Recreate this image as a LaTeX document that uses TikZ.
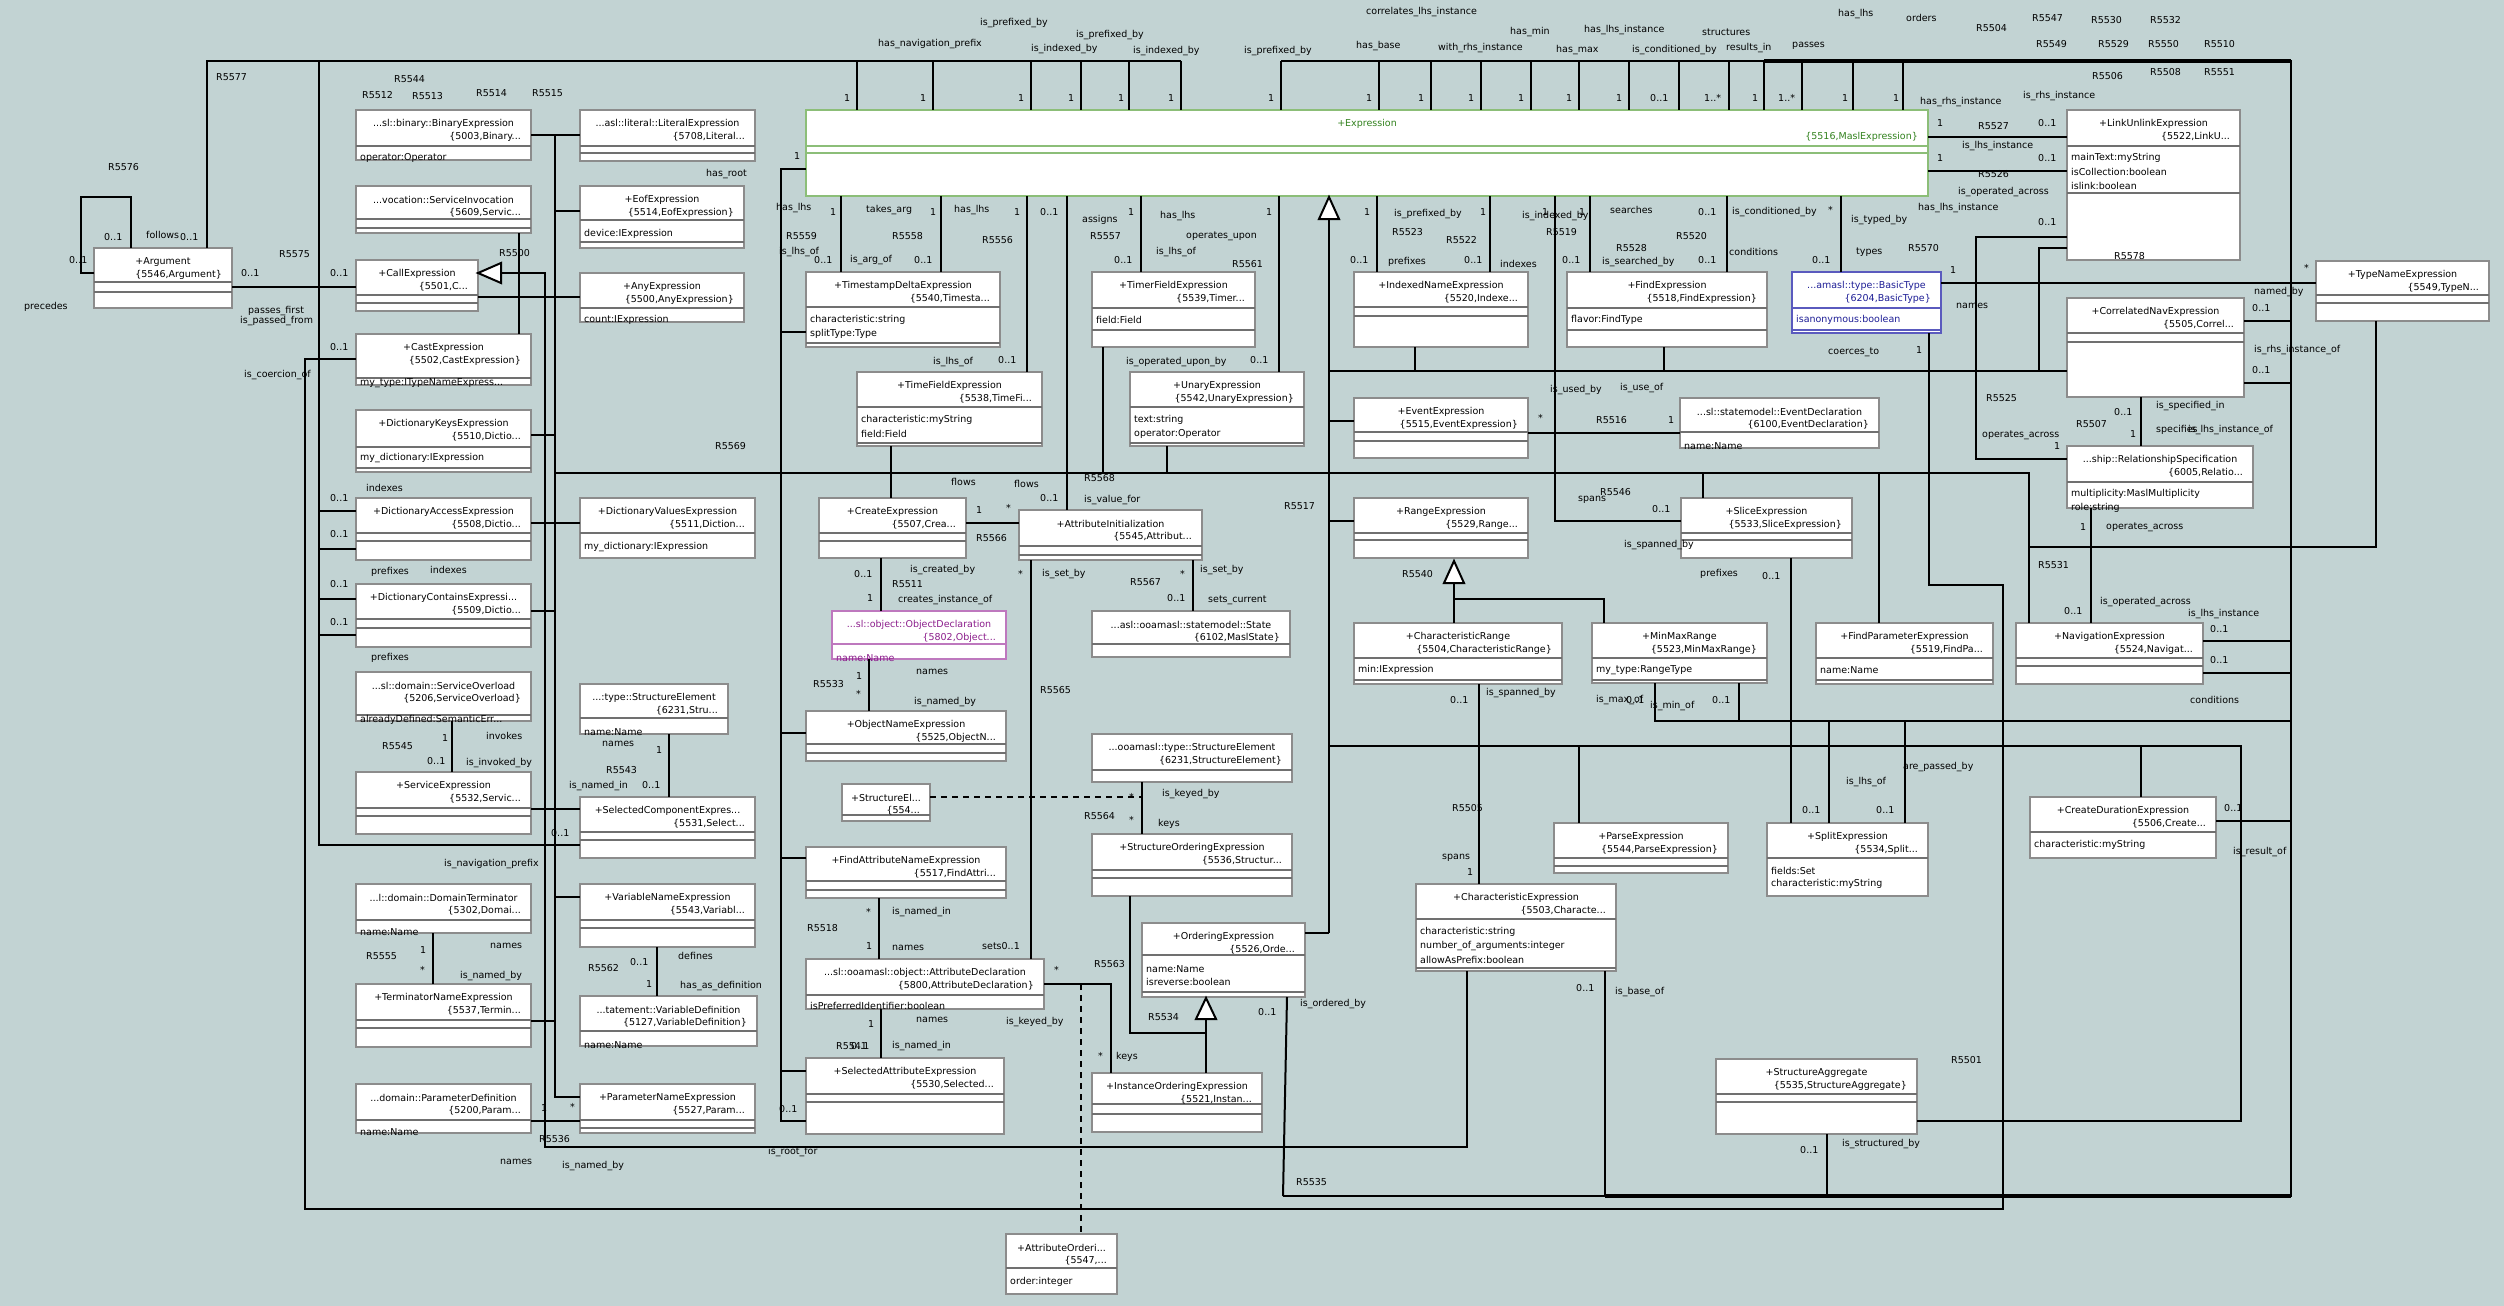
\documentclass[tikz,border=0pt]{standalone}
\usepackage{fontspec}
\setmainfont{DejaVu Sans}
\definecolor{bg}{RGB}{194,211,211}
\definecolor{boxline}{RGB}{140,140,140}
\definecolor{sepline}{RGB}{112,112,112}
\definecolor{exgreen}{RGB}{50,130,30}
\definecolor{exedge}{RGB}{140,190,120}
\definecolor{typeblue}{RGB}{30,30,150}
\definecolor{typeedge}{RGB}{90,90,190}
\definecolor{objpurple}{RGB}{140,30,140}
\definecolor{objedge}{RGB}{190,120,190}
\newcommand\dfont{\fontsize{9.5pt}{11pt}\selectfont}
\tikzset{
  umlbox/.style={draw=boxline, fill=white, line width=1.4pt, inner sep=0pt, outer sep=0pt},
  sep/.style={draw=sepline, line width=2.2pt},
  ttl/.style={font=\dfont, text=black, inner sep=0pt},
  attr/.style={font=\dfont, text=black, inner sep=0pt, anchor=west},
  lbl/.style={font=\dfont, text=black, inner sep=0pt, anchor=west},
  conn/.style={draw=black, line width=2pt},
  thickconn/.style={draw=black, line width=3.5pt},
  dashconn/.style={draw=black, line width=2pt, dash pattern=on 6pt off 5pt},
  gen/.style={draw=black, fill=white, line width=2pt, line join=miter},
}
% class box: name, x1, y1, x2, y2, title, id, first separator, second separator
\newcommand\ubox[9]{%
  \node[umlbox, minimum width={(#4)-(#2)}, minimum height={(#5)-(#3)}, anchor=north west] (#1) at (#2,#3) {};
  \draw[sep] (#2,#8) -- (#4,#8);
  \if\relax\detokenize{#9}\relax\else\draw[sep] (#2,#9) -- (#4,#9);\fi
  \node[ttl] (#1-t) at ({(#2+#4)/2},{#3+14}) {#6};
  \node[ttl, anchor=east] (#1-i) at ({#4-10},{#3+27}) {#7};
}
\newcommand\uattr[4]{\node[attr] (#1) at (#2,#3) {#4};}
\newcount\lbn
\newcommand\tx[3]{\global\advance\lbn by 1 \node[lbl] (lb\the\lbn) at (#1,#2) {#3};}
\begin{document}
\catcode`\_=12
\begin{tikzpicture}[x=1pt,y=-1pt]
\fill[bg] (0,0) rectangle (2504,1306);
\useasboundingbox (0,0) rectangle (2504,1306);

% ---------- class boxes ----------
\ubox{arg}{94}{248}{232}{308}{+Argument}{\{5546,Argument\}}{282}{292}
\ubox{binexp}{356}{110}{531}{160}{...sl::binary::BinaryExpression}{\{5003,Binary...}{146}{}
\uattr{binexp-a}{360}{158}{operator:Operator}
\ubox{servinv}{356}{186}{531}{233}{...vocation::ServiceInvocation}{\{5609,Servic...}{219}{228}
\ubox{call}{356}{260}{478}{311}{+CallExpression}{\{5501,C...}{295}{303}
\ubox{cast}{356}{334}{531}{385}{+CastExpression}{\{5502,CastExpression\}}{378}{}
\uattr{cast-a}{360}{383}{my_type:ITypeNameExpress...}
\ubox{dkeys}{356}{410}{531}{472}{+DictionaryKeysExpression}{\{5510,Dictio...}{447}{468}
\uattr{dkeys-a}{360}{458}{my_dictionary:IExpression}
\ubox{daccess}{356}{498}{531}{560}{+DictionaryAccessExpression}{\{5508,Dictio...}{533}{541}
\ubox{dcontains}{356}{584}{531}{647}{+DictionaryContainsExpressi...}{\{5509,Dictio...}{619}{628}
\ubox{servovl}{356}{672}{531}{721}{...sl::domain::ServiceOverload}{\{5206,ServiceOverload\}}{715}{}
\uattr{servovl-a}{360}{720}{alreadyDefined:SemanticErr...}
\ubox{servexp}{356}{772}{531}{834}{+ServiceExpression}{\{5532,Servic...}{808}{816}
\ubox{domterm}{356}{884}{531}{933}{...l::domain::DomainTerminator}{\{5302,Domai...}{920}{}
\uattr{domterm-a}{360}{932}{name:Name}
\ubox{termname}{356}{984}{531}{1047}{+TerminatorNameExpression}{\{5537,Termin...}{1020}{1028}
\ubox{paramdef}{356}{1084}{531}{1133}{...domain::ParameterDefinition}{\{5200,Param...}{1120}{}
\uattr{paramdef-a}{360}{1132}{name:Name}

\ubox{litexp}{580}{110}{755}{161}{...asl::literal::LiteralExpression}{\{5708,Literal...}{146}{153}
\ubox{eofexp}{580}{186}{744}{248}{+EofExpression}{\{5514,EofExpression\}}{220}{242}
\uattr{eofexp-a}{584}{234}{device:IExpression}
\ubox{anyexp}{580}{273}{744}{322}{+AnyExpression}{\{5500,AnyExpression\}}{308}{}
\uattr{anyexp-a}{584}{320}{count:IExpression}
\ubox{dvalues}{580}{498}{755}{558}{+DictionaryValuesExpression}{\{5511,Diction...}{533}{}
\uattr{dvalues-a}{584}{547}{my_dictionary:IExpression}
\ubox{stelemA}{580}{684}{728}{734}{...:type::StructureElement}{\{6231,Stru...}{718}{}
\uattr{stelemA-a}{584}{732}{name:Name}
\ubox{selcomp}{580}{797}{755}{858}{+SelectedComponentExpres...}{\{5531,Select...}{832}{840}
\ubox{varname}{580}{884}{755}{947}{+VariableNameExpression}{\{5543,Variabl...}{920}{928}
\ubox{vardef}{580}{996}{757}{1046}{...tatement::VariableDefinition}{\{5127,VariableDefinition\}}{1031}{}
\uattr{vardef-a}{584}{1045}{name:Name}
\ubox{paramname}{580}{1084}{755}{1133}{+ParameterNameExpression}{\{5527,Param...}{1120}{1128}

\begin{scope}[umlbox/.style={draw=exedge, fill=white, line width=1.4pt, inner sep=0pt, outer sep=0pt},
  sep/.style={draw=exedge, line width=2.2pt}, ttl/.style={font=\dfont, text=exgreen, inner sep=0pt}]
\ubox{expr}{806}{110}{1928}{196}{+Expression}{\{5516,MaslExpression\}}{146}{153}
\end{scope}

\ubox{tsdelta}{806}{272}{1000}{347}{+TimestampDeltaExpression}{\{5540,Timesta...}{307}{343}
\uattr{tsdelta-a}{810}{320}{characteristic:string}
\uattr{tsdelta-b}{810}{334}{splitType:Type}
\ubox{timefield}{857}{372}{1042}{446}{+TimeFieldExpression}{\{5538,TimeFi...}{407}{443}
\uattr{timefield-a}{861}{420}{characteristic:myString}
\uattr{timefield-b}{861}{434}{field:Field}
\ubox{timerfield}{1092}{272}{1255}{347}{+TimerFieldExpression}{\{5539,Timer...}{308}{330}
\uattr{timerfield-a}{1096}{320}{field:Field}
\ubox{unary}{1130}{372}{1304}{446}{+UnaryExpression}{\{5542,UnaryExpression\}}{407}{443}
\uattr{unary-a}{1134}{420}{text:string}
\uattr{unary-b}{1134}{434}{operator:Operator}
\ubox{create}{819}{498}{966}{558}{+CreateExpression}{\{5507,Crea...}{533}{541}
\ubox{attrinit}{1019}{510}{1202}{560}{+AttributeInitialization}{\{5545,Attribut...}{546}{555}
\begin{scope}[umlbox/.style={draw=objedge, fill=white, line width=1.4pt, inner sep=0pt, outer sep=0pt},
  sep/.style={draw=objedge, line width=2.2pt}, ttl/.style={font=\dfont, text=objpurple, inner sep=0pt},
  attr/.style={font=\dfont, text=objpurple, inner sep=0pt, anchor=west}]
\ubox{objdecl}{832}{611}{1006}{659}{...sl::object::ObjectDeclaration}{\{5802,Object...}{644}{}
\uattr{objdecl-a}{836}{658}{name:Name}
\end{scope}
\ubox{state}{1092}{611}{1290}{657}{...asl::ooamasl::statemodel::State}{\{6102,MaslState\}}{644}{}
\ubox{objname}{806}{711}{1006}{761}{+ObjectNameExpression}{\{5525,ObjectN...}{744}{753}
\ubox{stelemB}{842}{784}{930}{821}{+StructureEl...}{\{554...}{815}{}
\ubox{stelemC}{1092}{734}{1292}{782}{...ooamasl::type::StructureElement}{\{6231,StructureElement\}}{770}{}
\ubox{stord}{1092}{834}{1292}{896}{+StructureOrderingExpression}{\{5536,Structur...}{870}{878}
\ubox{findattr}{806}{847}{1006}{898}{+FindAttributeNameExpression}{\{5517,FindAttri...}{881}{890}
\ubox{attrdecl}{806}{959}{1044}{1009}{...sl::ooamasl::object::AttributeDeclaration}{\{5800,AttributeDeclaration\}}{995}{}
\uattr{attrdecl-a}{810}{1006}{isPreferredIdentifier:boolean}
\ubox{selattr}{806}{1058}{1004}{1134}{+SelectedAttributeExpression}{\{5530,Selected...}{1094}{1102}
\ubox{ordexp}{1142}{923}{1305}{997}{+OrderingExpression}{\{5526,Orde...}{955}{992}
\uattr{ordexp-a}{1146}{969}{name:Name}
\uattr{ordexp-b}{1146}{982}{isreverse:boolean}
\ubox{instord}{1092}{1073}{1262}{1132}{+InstanceOrderingExpression}{\{5521,Instan...}{1104}{1114}
\ubox{attrord}{1006}{1234}{1117}{1294}{+AttributeOrderi...}{\{5547,...}{1268}{}
\uattr{attrord-a}{1010}{1282}{order:integer}

\ubox{idxname}{1354}{272}{1528}{347}{+IndexedNameExpression}{\{5520,Indexe...}{307}{316}
\ubox{findexp}{1567}{272}{1767}{347}{+FindExpression}{\{5518,FindExpression\}}{308}{330}
\uattr{findexp-a}{1571}{320}{flavor:FindType}
\begin{scope}[umlbox/.style={draw=typeedge, fill=white, line width=1.4pt, inner sep=0pt, outer sep=0pt},
  sep/.style={draw=typeedge, line width=2.2pt}, ttl/.style={font=\dfont, text=typeblue, inner sep=0pt},
  attr/.style={font=\dfont, text=typeblue, inner sep=0pt, anchor=west}]
\ubox{basictype}{1792}{272}{1941}{333}{...amasl::type::BasicType}{\{6204,BasicType\}}{308}{330}
\uattr{basictype-a}{1796}{320}{isanonymous:boolean}
\end{scope}
\ubox{eventexp}{1354}{398}{1528}{458}{+EventExpression}{\{5515,EventExpression\}}{432}{441}
\ubox{eventdecl}{1680}{398}{1879}{448}{...sl::statemodel::EventDeclaration}{\{6100,EventDeclaration\}}{432}{}
\uattr{eventdecl-a}{1684}{446}{name:Name}
\ubox{range}{1354}{498}{1528}{558}{+RangeExpression}{\{5529,Range...}{533}{540}
\ubox{slice}{1681}{498}{1852}{558}{+SliceExpression}{\{5533,SliceExpression\}}{533}{540}
\ubox{charrange}{1354}{623}{1562}{684}{+CharacteristicRange}{\{5504,CharacteristicRange\}}{658}{680}
\uattr{charrange-a}{1358}{670}{min:IExpression}
\ubox{minmax}{1592}{623}{1767}{683}{+MinMaxRange}{\{5523,MinMaxRange\}}{658}{680}
\uattr{minmax-a}{1596}{670}{my_type:RangeType}
\ubox{findparam}{1816}{623}{1993}{684}{+FindParameterExpression}{\{5519,FindPa...}{658}{680}
\uattr{findparam-a}{1820}{670}{name:Name}
\ubox{charexpr}{1416}{884}{1616}{971}{+CharacteristicExpression}{\{5503,Characte...}{919}{968}
\uattr{charexpr-a}{1420}{932}{characteristic:string}
\uattr{charexpr-b}{1420}{946}{number_of_arguments:integer}
\uattr{charexpr-c}{1420}{960}{allowAsPrefix:boolean}
\ubox{parse}{1554}{823}{1728}{873}{+ParseExpression}{\{5544,ParseExpression\}}{858}{866}
\ubox{split}{1767}{823}{1928}{896}{+SplitExpression}{\{5534,Split...}{858}{}
\uattr{split-a}{1771}{871}{fields:Set}
\uattr{split-b}{1771}{884}{characteristic:myString}
\ubox{straggr}{1716}{1059}{1917}{1134}{+StructureAggregate}{\{5535,StructureAggregate\}}{1094}{1102}

\ubox{linkunlink}{2067}{110}{2240}{260}{+LinkUnlinkExpression}{\{5522,LinkU...}{146}{193}
\uattr{linkunlink-a}{2071}{158}{mainText:myString}
\uattr{linkunlink-b}{2071}{172}{isCollection:boolean}
\uattr{linkunlink-c}{2071}{186}{islink:boolean}
\ubox{corrnav}{2067}{298}{2244}{397}{+CorrelatedNavExpression}{\{5505,Correl...}{333}{342}
\ubox{relspec}{2067}{446}{2253}{508}{...ship::RelationshipSpecification}{\{6005,Relatio...}{482}{}
\uattr{relspec-a}{2071}{494}{multiplicity:MaslMultiplicity}
\uattr{relspec-b}{2071}{508}{role:string}
\ubox{navexp}{2016}{623}{2203}{684}{+NavigationExpression}{\{5524,Navigat...}{658}{666}
\ubox{createdur}{2030}{797}{2216}{858}{+CreateDurationExpression}{\{5506,Create...}{832}{}
\uattr{createdur-a}{2034}{845}{characteristic:myString}
\ubox{typename}{2316}{261}{2489}{321}{+TypeNameExpression}{\{5549,TypeN...}{295}{303}

% ---------- associations ----------
\begin{scope}[on background layer/.style={}]
% Argument: follows / precedes
\draw[conn] (arg.west |- 0,273) -- (81,273) -- (81,197) -- (131,197) -- (arg.north -| 131,0);
\draw[conn] (arg.north -| 207,0) -- (207,61) -- (1181,61);
\draw[conn] (319,61) -- (319,845) -- (selcomp.west |- 0,845);
\draw[conn] (arg.east |- 0,287) -- (call.west |- 0,287);
% coercion
\draw[conn] (cast.west |- 0,359) -- (305,359) -- (305,1209) -- (2003,1209) -- (2003,585) -- (1929,585) -- (basictype.south -| 1929,0);
% dictionary indexes / prefixes
\draw[conn] (319,511) -- (daccess.west |- 0,511);
\draw[conn] (319,549) -- (daccess.west |- 0,549);
\draw[conn] (319,599) -- (dcontains.west |- 0,599);
\draw[conn] (319,635) -- (dcontains.west |- 0,635);
% subtype bus of the left columns
\draw[conn] (binexp.east |- 0,135) -- (litexp.west |- 0,135);
\draw[conn, line width=2.6pt] (555,135) -- (555,1097) -- (paramname.west |- 0,1097);
\draw[conn] (555,211) -- (eofexp.west |- 0,211);
\draw[conn] (call.east |- 0,297) -- (anyexp.west |- 0,297);
\draw[conn] (dkeys.east |- 0,435) -- (555,435);
\draw[conn] (555,473) -- (2029,473) -- (navexp.north -| 2029,0);
\draw[conn] (daccess.east |- 0,523) -- (dvalues.west |- 0,523);
\draw[conn] (dcontains.east |- 0,611) -- (555,611);
\draw[conn] (servexp.east |- 0,809) -- (selcomp.west |- 0,809);
\draw[conn] (555,897) -- (varname.west |- 0,897);
\draw[conn] (termname.east |- 0,1021) -- (555,1021);
\draw[conn] (paramdef.east |- 0,1121) -- (paramname.west |- 0,1121);
% CallExpression subtypes
\draw[conn] (501,273) -- (545,273) -- (545,1147) -- (1467,1147) -- (charexpr.south -| 1467,0);
\draw[conn] (servinv.south -| 519,0) -- (cast.north -| 519,0);
% has_root
\draw[conn] (expr.west |- 0,169) -- (781,169) -- (781,1121) -- (selattr.west |- 0,1121);
\draw[conn] (781,332) -- (tsdelta.west |- 0,332);
\draw[conn] (781,733) -- (objname.west |- 0,733);
\draw[conn] (781,858) -- (findattr.west |- 0,858);
\draw[conn] (781,1071) -- (selattr.west |- 0,1071);
% top prefix/index bus
\foreach \xx in {857,933,1031,1081,1129,1181,1281,1379,1431,1481,1531,1579,1629,1679,1729,1764,1802,1853,1903}
  \draw[conn] (\xx,61) -- (expr.north -| \xx,0);
\draw[conn] (1281,61) -- (2291,61) -- (2291,1196) -- (1283,1196);
\draw[thickconn] (1764,61) -- (2291,61);
\draw[thickconn] (1605,1196) -- (2291,1196);
% below Expression
\draw[conn] (expr.south -| 841,0) -- (tsdelta.north -| 841,0);
\draw[conn] (expr.south -| 941,0) -- (tsdelta.north -| 941,0);
\draw[conn] (expr.south -| 1027,0) -- (timefield.north -| 1027,0);
\draw[conn] (expr.south -| 1067,0) -- (attrinit.north -| 1067,0);
\draw[conn] (expr.south -| 1141,0) -- (timerfield.north -| 1141,0);
\draw[conn] (expr.south -| 1279,0) -- (unary.north -| 1279,0);
\draw[conn] (timefield.south -| 891,0) -- (create.north -| 891,0);
\draw[conn] (timerfield.south -| 1103,0) -- (1103,473);
\draw[conn] (unary.south -| 1167,0) -- (1167,473);
\draw[conn] (create.east |- 0,523) -- (attrinit.west |- 0,523);
\draw[conn] (create.south -| 881,0) -- (objdecl.north -| 881,0);
\draw[conn] (attrinit.south -| 1031,0) -- (attrdecl.north -| 1031,0);
\draw[conn] (attrinit.south -| 1193,0) -- (state.north -| 1193,0);
\draw[conn] (objdecl.south -| 869,0) -- (objname.north -| 869,0);
\draw[dashconn] (stelemB.east |- 0,797) -- (1142,797);
\draw[conn] (stelemC.south -| 1142,0) -- (stord.north -| 1142,0);
\draw[conn] (findattr.south -| 879,0) -- (attrdecl.north -| 879,0);
\draw[conn] (attrdecl.south -| 881,0) -- (selattr.north -| 881,0);
\draw[conn] (attrdecl.east |- 0,984) -- (1111,984) -- (instord.north -| 1111,0);
\draw[dashconn] (1081,984) -- (attrord.north -| 1081,0);
\draw[conn] (1206,1019) -- (instord.north -| 1206,0);
\draw[conn] (1206,1033) -- (1130,1033) -- (stord.south -| 1130,0);
\draw[conn] (ordexp.east |- 0,933) -- (1329,933);
\draw[conn] (ordexp.south -| 1287,0) -- (1283,1196);
% Expression subtypes
\draw[conn] (1329,219) -- (1329,933);
\draw[conn] (1329,371) -- (corrnav.west |- 0,371);
\draw[conn] (1329,421) -- (eventexp.west |- 0,421);
\draw[conn] (1329,521) -- (range.west |- 0,521);
\draw[conn] (1329,746) -- (2241,746) -- (2241,1121) -- (straggr.east |- 0,1121);
\draw[conn] (idxname.south -| 1415,0) -- (1415,371);
\draw[conn] (findexp.south -| 1664,0) -- (1664,371);
\draw[conn] (linkunlink.west |- 0,248) -- (2039,248) -- (2039,371);
\draw[conn] (eventexp.east |- 0,433) -- (eventdecl.west |- 0,433);
\draw[conn] (expr.south -| 1377,0) -- (idxname.north -| 1377,0);
\draw[conn] (expr.south -| 1490,0) -- (idxname.north -| 1490,0);
\draw[conn] (expr.south -| 1555,0) -- (1555,521) -- (slice.west |- 0,521);
\draw[conn] (expr.south -| 1590,0) -- (findexp.north -| 1590,0);
\draw[conn] (expr.south -| 1727,0) -- (findexp.north -| 1727,0);
\draw[conn] (expr.south -| 1841,0) -- (basictype.north -| 1841,0);
\draw[conn] (1703,473) -- (slice.north -| 1703,0);
\draw[conn] (slice.south -| 1791,0) -- (split.north -| 1791,0);
\draw[conn] (1879,473) -- (findparam.north -| 1879,0);
\draw[conn] (1454,583) -- (charrange.north -| 1454,0);
\draw[conn] (1454,599) -- (1604,599) -- (minmax.north -| 1604,0);
\draw[conn] (charrange.south -| 1479,0) -- (charexpr.north -| 1479,0);
\draw[conn] (minmax.south -| 1655,0) -- (1655,721) -- (2291,721);
\draw[conn] (minmax.south -| 1739,0) -- (1739,721);
\draw[conn] (1829,721) -- (split.north -| 1829,0);
\draw[conn] (1905,721) -- (split.north -| 1905,0);
\draw[conn] (1579,746) -- (parse.north -| 1579,0);
\draw[conn] (2141,746) -- (createdur.north -| 2141,0);
\draw[conn] (createdur.east |- 0,821) -- (2291,821);
\draw[conn] (charexpr.south -| 1605,0) -- (1605,1196);
\draw[conn] (straggr.south -| 1827,0) -- (1827,1196);
% right-hand associations
\draw[conn] (expr.east |- 0,137) -- (linkunlink.west |- 0,137);
\draw[conn] (expr.east |- 0,171) -- (linkunlink.west |- 0,171);
\draw[conn] (linkunlink.west |- 0,237) -- (1976,237) -- (1976,459) -- (relspec.west |- 0,459);
\draw[conn] (basictype.east |- 0,283) -- (typename.west |- 0,283);
\draw[conn] (corrnav.east |- 0,321) -- (2291,321);
\draw[conn] (corrnav.east |- 0,383) -- (2291,383);
\draw[conn] (corrnav.south -| 2141,0) -- (relspec.north -| 2141,0);
\draw[conn] (relspec.south -| 2091,0) -- (navexp.north -| 2091,0);
\draw[conn] (typename.south -| 2376,0) -- (2376,547) -- (2029,547);
\draw[conn] (navexp.east |- 0,641) -- (2291,641);
\draw[conn] (navexp.east |- 0,673) -- (2291,673);
\draw[conn] (servovl.south -| 452,0) -- (servexp.north -| 452,0);
\draw[conn] (domterm.south -| 433,0) -- (termname.north -| 433,0);
\draw[conn] (stelemA.south -| 669,0) -- (selcomp.north -| 669,0);
\draw[conn] (varname.south -| 657,0) -- (vardef.north -| 657,0);
\end{scope}

% ---------- generalisation arrowheads ----------
\draw[gen] (478,273) -- (501,263) -- (501,283) -- cycle;
\draw[gen] (1329,197) -- (1319,219) -- (1339,219) -- cycle;
\draw[gen] (1454,561) -- (1444,583) -- (1464,583) -- cycle;
\draw[gen] (1206,998) -- (1196,1019) -- (1216,1019) -- cycle;

% ---------- role and relationship labels ----------
\tx{108}{167}{R5576} \tx{104}{237}{0..1} \tx{69}{260}{0..1} \tx{24}{307}{precedes}
\tx{146}{235}{follows} \tx{180}{237}{0..1} \tx{216}{77}{R5577}
\tx{241}{273}{0..1} \tx{279}{254}{R5575} \tx{330}{273}{0..1}
\tx{248}{311}{passes_first} \tx{240}{321}{is_passed_from}
\tx{330}{347}{0..1} \tx{244}{375}{is_coercion_of}
\tx{394}{79}{R5544} \tx{362}{95}{R5512} \tx{412}{96}{R5513} \tx{476}{93}{R5514} \tx{532}{93}{R5515}
\tx{499}{253}{R5500}
\tx{366}{488}{indexes} \tx{330}{498}{0..1} \tx{330}{534}{0..1}
\tx{371}{572}{prefixes} \tx{430}{570}{indexes} \tx{330}{584}{0..1} \tx{330}{622}{0..1}
\tx{371}{658}{prefixes}
\tx{442}{738}{1} \tx{486}{736}{invokes} \tx{382}{746}{R5545} \tx{427}{761}{0..1} \tx{466}{763}{is_invoked_by}
\tx{444}{864}{is_navigation_prefix}
\tx{602}{744}{names} \tx{606}{770}{R5543} \tx{569}{786}{is_named_in} \tx{551}{833}{0..1}
\tx{656}{750}{1} \tx{642}{785}{0..1}
\tx{706}{174}{has_root} \tx{794}{156}{1}
\tx{980}{23}{is_prefixed_by} \tx{878}{44}{has_navigation_prefix} \tx{1076}{35}{is_prefixed_by}
\tx{1031}{49}{is_indexed_by} \tx{1133}{51}{is_indexed_by} \tx{1244}{51}{is_prefixed_by}
\tx{844}{98}{1} \tx{920}{98}{1} \tx{1018}{98}{1} \tx{1068}{98}{1} \tx{1118}{98}{1} \tx{1168}{98}{1}
\tx{776}{208}{has_lhs} \tx{830}{212}{1} \tx{866}{210}{takes_arg} \tx{930}{212}{1} \tx{954}{210}{has_lhs}
\tx{1014}{212}{1} \tx{1040}{212}{0..1} \tx{1082}{220}{assigns} \tx{1128}{212}{1} \tx{1160}{216}{has_lhs}
\tx{786}{236}{R5559} \tx{892}{236}{R5558} \tx{982}{240}{R5556} \tx{1090}{236}{R5557}
\tx{1186}{236}{operates_upon} \tx{1156}{252}{is_lhs_of} \tx{1232}{264}{R5561}
\tx{779}{252}{is_lhs_of} \tx{814}{260}{0..1} \tx{850}{260}{is_arg_of} \tx{914}{260}{0..1} \tx{1114}{260}{0..1}
\tx{933}{362}{is_lhs_of} \tx{998}{360}{0..1} \tx{1126}{362}{is_operated_upon_by} \tx{1250}{360}{0..1}
\tx{1366}{12}{correlates_lhs_instance} \tx{1356}{46}{has_base} \tx{1510}{32}{has_min}
\tx{1438}{48}{with_rhs_instance} \tx{1584}{30}{has_lhs_instance} \tx{1556}{50}{has_max}
\tx{1702}{32}{structures} \tx{1632}{50}{is_conditioned_by} \tx{1726}{48}{results_in}
\tx{1792}{46}{passes} \tx{1838}{14}{has_lhs}
\tx{1268}{98}{1} \tx{1366}{98}{1} \tx{1418}{98}{1} \tx{1468}{98}{1} \tx{1518}{98}{1} \tx{1566}{98}{1}
\tx{1616}{98}{1} \tx{1650}{98}{0..1} \tx{1704}{98}{1..*} \tx{1752}{98}{1} \tx{1778}{98}{1..*}
\tx{1842}{98}{1} \tx{1893}{98}{1}
\tx{1266}{212}{1}
\tx{1364}{212}{1} \tx{1350}{260}{0..1} \tx{1394}{214}{is_prefixed_by} \tx{1480}{212}{1}
\tx{1392}{232}{R5523} \tx{1446}{240}{R5522} \tx{1388}{262}{prefixes} \tx{1464}{260}{0..1} \tx{1500}{264}{indexes}
\tx{1522}{216}{is_indexed_by} \tx{1542}{212}{1} \tx{1579}{212}{1} \tx{1546}{232}{R5519} \tx{1562}{260}{0..1}
\tx{1610}{210}{searches} \tx{1698}{212}{0..1} \tx{1676}{236}{R5520} \tx{1616}{248}{R5528}
\tx{1602}{262}{is_searched_by} \tx{1698}{260}{0..1}
\tx{1732}{212}{is_conditioned_by} \tx{1828}{210}{*} \tx{1729}{252}{conditions} \tx{1812}{260}{0..1}
\tx{1851}{220}{is_typed_by} \tx{1856}{252}{types}
\tx{1828}{352}{coerces_to} \tx{1916}{350}{1}
\tx{1550}{390}{is_used_by} \tx{1620}{388}{is_use_of} \tx{1538}{418}{*} \tx{1596}{420}{R5516} \tx{1668}{420}{1}
\tx{1906}{18}{orders} \tx{1976}{28}{R5504} \tx{2032}{18}{R5547} \tx{2091}{20}{R5530} \tx{2150}{20}{R5532}
\tx{2036}{44}{R5549} \tx{2098}{44}{R5529} \tx{2148}{44}{R5550} \tx{2204}{44}{R5510}
\tx{2092}{76}{R5506} \tx{2150}{72}{R5508} \tx{2204}{72}{R5551}
\tx{1920}{102}{has_rhs_instance} \tx{2023}{96}{is_rhs_instance}
\tx{1937}{123}{1} \tx{1978}{126}{R5527} \tx{2038}{123}{0..1} \tx{1962}{146}{is_lhs_instance}
\tx{1937}{158}{1} \tx{2038}{158}{0..1} \tx{1978}{174}{R5526} \tx{1958}{192}{is_operated_across}
\tx{1918}{208}{has_lhs_instance} \tx{2038}{222}{0..1} \tx{2114}{256}{R5578} \tx{1908}{248}{R5570} \tx{1950}{270}{1}
\tx{2304}{268}{*} \tx{2254}{292}{named_by} \tx{1956}{306}{names} \tx{2252}{308}{0..1}
\tx{2254}{350}{is_rhs_instance_of} \tx{2252}{370}{0..1}
\tx{1986}{398}{R5525} \tx{2114}{412}{0..1} \tx{2156}{406}{is_specified_in} \tx{2076}{424}{R5507}
\tx{2156}{430}{specifies} \tx{2188}{430}{is_lhs_instance_of} \tx{2130}{434}{1}
\tx{1982}{435}{operates_across} \tx{2054}{446}{1}
\tx{2080}{527}{1} \tx{2106}{527}{operates_across} \tx{2038}{565}{R5531} \tx{2064}{611}{0..1}
\tx{2100}{602}{is_operated_across} \tx{2188}{614}{is_lhs_instance} \tx{2210}{629}{0..1} \tx{2210}{660}{0..1}
\tx{2190}{700}{conditions} \tx{1903}{767}{are_passed_by} \tx{1876}{810}{0..1}
\tx{2224}{808}{0..1} \tx{2233}{852}{is_result_of}
\tx{715}{446}{R5569} \tx{951}{482}{flows} \tx{1014}{484}{flows} \tx{976}{510}{1} \tx{1006}{508}{*}
\tx{976}{538}{R5566} \tx{1040}{498}{0..1} \tx{1084}{478}{R5568} \tx{1084}{500}{is_value_for}
\tx{854}{574}{0..1} \tx{910}{570}{is_created_by} \tx{892}{584}{R5511} \tx{867}{598}{1} \tx{898}{600}{creates_instance_of}
\tx{1018}{574}{*} \tx{1042}{574}{is_set_by} \tx{1040}{690}{R5565}
\tx{1180}{574}{*} \tx{1200}{570}{is_set_by} \tx{1130}{582}{R5567} \tx{1167}{598}{0..1} \tx{1208}{600}{sets_current}
\tx{856}{676}{1} \tx{916}{672}{names} \tx{813}{684}{R5533} \tx{856}{694}{*} \tx{914}{702}{is_named_by}
\tx{1129}{797}{*} \tx{1162}{794}{is_keyed_by} \tx{1084}{816}{R5564} \tx{1129}{820}{*} \tx{1158}{824}{keys}
\tx{1284}{506}{R5517} \tx{1600}{492}{R5546} \tx{1578}{500}{spans} \tx{1652}{509}{0..1} \tx{1624}{545}{is_spanned_by}
\tx{1700}{574}{prefixes} \tx{1762}{576}{0..1} \tx{1402}{574}{R5540}
\tx{1450}{700}{0..1} \tx{1486}{693}{is_spanned_by} \tx{1452}{808}{R5505} \tx{1442}{858}{spans}
\tx{1596}{700}{is_max_of} \tx{1626}{700}{0..1} \tx{1650}{706}{is_min_of} \tx{1712}{700}{0..1}
\tx{1846}{782}{is_lhs_of} \tx{1802}{810}{0..1} \tx{1467}{872}{1}
\tx{420}{950}{1} \tx{366}{956}{R5555} \tx{420}{970}{*} \tx{490}{946}{names} \tx{460}{976}{is_named_by}
\tx{541}{1108}{1} \tx{570}{1107}{*} \tx{539}{1139}{R5536} \tx{500}{1162}{names} \tx{562}{1166}{is_named_by}
\tx{588}{968}{R5562}
\tx{630}{962}{0..1} \tx{678}{956}{defines} \tx{646}{984}{1} \tx{680}{986}{has_as_definition}
\tx{866}{912}{*} \tx{892}{912}{is_named_in} \tx{807}{928}{R5518} \tx{866}{946}{1} \tx{892}{948}{names}
\tx{982}{946}{sets0..1}
\tx{868}{1024}{1} \tx{916}{1020}{names} \tx{836}{1046}{R5541} \tx{851}{1046}{0..1} \tx{892}{1046}{is_named_in}
\tx{1054}{970}{*} \tx{1094}{964}{R5563} \tx{1006}{1022}{is_keyed_by} \tx{1098}{1056}{*} \tx{1116}{1057}{keys}
\tx{1148}{1017}{R5534} \tx{768}{1152}{is_root_for} \tx{779}{1109}{0..1}
\tx{1258}{1012}{0..1} \tx{1300}{1004}{is_ordered_by} \tx{1296}{1182}{R5535}
\tx{1576}{988}{0..1} \tx{1615}{992}{is_base_of} \tx{1800}{1150}{0..1} \tx{1842}{1144}{is_structured_by}
\tx{1951}{1060}{R5501}
\end{tikzpicture}
\end{document}
